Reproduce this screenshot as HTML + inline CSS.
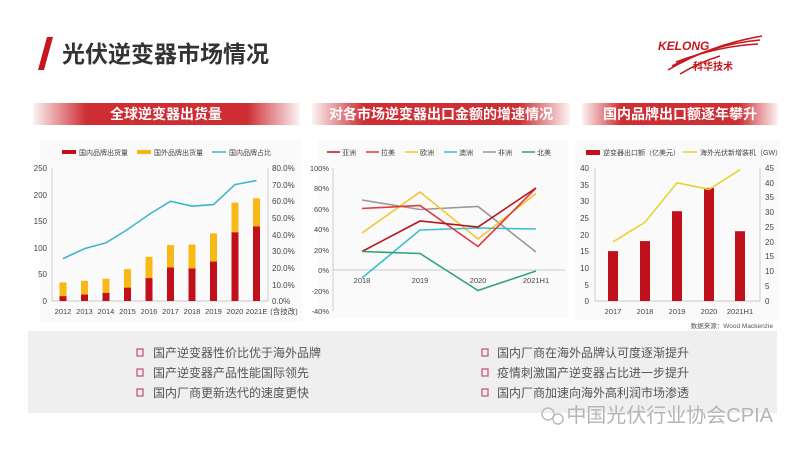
<!DOCTYPE html>
<html><head><meta charset="utf-8"><style>
html,body{margin:0;padding:0;background:#fff;}
svg{display:block;font-family:"Liberation Sans","Noto Sans CJK SC",sans-serif;}
</style></head><body>
<svg width="800" height="450" viewBox="0 0 800 450" xmlns="http://www.w3.org/2000/svg">
<defs>
<linearGradient id="bn" x1="0" x2="1" y1="0" y2="0">
<stop offset="0" stop-color="#c8161d" stop-opacity="0.05"/>
<stop offset="0.2" stop-color="#c8161d" stop-opacity="0.9"/>
<stop offset="0.8" stop-color="#c8161d" stop-opacity="0.9"/>
<stop offset="1" stop-color="#c8161d" stop-opacity="0.05"/>
</linearGradient>
</defs>
<rect width="800" height="450" fill="#fff"/>
<polygon points="47,37 53,37 44,70 38,70" fill="#c8161d"/>
<text x="62" y="62" font-size="23" font-weight="bold" fill="#333">光伏逆变器市场情况</text>
<text x="658" y="50" font-size="12" font-weight="bold" font-style="italic" fill="#c8161d">KELONG</text>
<g stroke="#c8161d" fill="none" stroke-width="1.6">
<path d="M668,70 Q710,45 762,36"/><path d="M672,66 Q715,44 760,40"/><path d="M676,62 Q718,46 758,44"/><path d="M680,74 Q700,62 720,56"/>
</g>
<text x="693" y="70" font-size="10" font-weight="bold" fill="#c8161d">科华技术</text>

<rect x="33" y="103" width="267" height="22" fill="url(#bn)"/>
<text x="166" y="119" font-size="14" font-weight="bold" fill="#fff" text-anchor="middle">全球逆变器出货量</text>
<rect x="312" y="103" width="258" height="22" fill="url(#bn)"/>
<text x="441" y="119" font-size="14" font-weight="bold" fill="#fff" text-anchor="middle">对各市场逆变器出口金额的增速情况</text>
<rect x="582" y="103" width="196" height="22" fill="url(#bn)"/>
<text x="680" y="119" font-size="14" font-weight="bold" fill="#fff" text-anchor="middle">国内品牌出口额逐年攀升</text>

<!-- chart1 -->
<rect x="40" y="140" width="262" height="182" fill="#fafafa"/>
<g font-size="7" fill="#444">
<rect x="62" y="150" width="14" height="4" fill="#c0101c"/><text x="79" y="155">国内品牌出货量</text>
<rect x="137" y="150" width="14" height="4" fill="#f8b916"/><text x="154" y="155">国外品牌出货量</text>
<line x1="212" y1="152" x2="226" y2="152" stroke="#3fb6cc" stroke-width="1.5"/><text x="229" y="155">国内品牌占比</text>
</g>
<line x1="52" y1="168" x2="52" y2="301" stroke="#bbb" stroke-width="0.7"/>
<line x1="268" y1="168" x2="268" y2="301" stroke="#bbb" stroke-width="0.7"/>
<line x1="52" y1="301" x2="268" y2="301" stroke="#bbb" stroke-width="0.7"/>
<g font-size="8" fill="#444" text-anchor="end">
<text x="47" y="171">250</text><text x="47" y="198">200</text><text x="47" y="224">150</text><text x="47" y="251">100</text><text x="47" y="277">50</text><text x="47" y="304">0</text>
</g>
<g font-size="8" fill="#444">
<text x="272" y="171">80.0%</text><text x="272" y="188">70.0%</text><text x="272" y="204">60.0%</text><text x="272" y="221">50.0%</text><text x="272" y="238">40.0%</text><text x="272" y="254">30.0%</text><text x="272" y="271">20.0%</text><text x="272" y="288">10.0%</text><text x="272" y="304">0.0%</text>
</g>
<g fill="#f8b916">
<rect x="59.5" y="282.4" width="7" height="18.6"/>
<rect x="81" y="280.8" width="7" height="20.2"/>
<rect x="102.5" y="278.7" width="7" height="22.3"/>
<rect x="124" y="269.1" width="7" height="31.9"/>
<rect x="145.5" y="256.8" width="7" height="44.2"/>
<rect x="167" y="245.1" width="7" height="55.9"/>
<rect x="188.5" y="244.6" width="7" height="56.4"/>
<rect x="210" y="233.4" width="7" height="67.6"/>
<rect x="231.5" y="202.6" width="7" height="98.4"/>
<rect x="253" y="198.3" width="7" height="102.7"/>
</g>
<g fill="#c0101c">
<rect x="59.5" y="296.2" width="7" height="4.8"/>
<rect x="81" y="294.6" width="7" height="6.4"/>
<rect x="102.5" y="293" width="7" height="8"/>
<rect x="124" y="287.7" width="7" height="13.3"/>
<rect x="145.5" y="278.1" width="7" height="22.9"/>
<rect x="167" y="267.5" width="7" height="33.5"/>
<rect x="188.5" y="268.5" width="7" height="32.5"/>
<rect x="210" y="261.6" width="7" height="39.4"/>
<rect x="231.5" y="232.4" width="7" height="68.6"/>
<rect x="253" y="226.5" width="7" height="74.5"/>
</g>
<polyline fill="none" stroke="#3fb6cc" stroke-width="1.6" points="63,258.6 84.5,248.6 106,242.8 127.5,229.5 149,214.5 170.5,201.2 192,206.2 213.5,204.6 235,184.6 256.5,180.5"/>
<g font-size="7.5" fill="#444" text-anchor="middle">
<text x="63" y="314">2012</text><text x="84.5" y="314">2013</text><text x="106" y="314">2014</text><text x="127.5" y="314">2015</text><text x="149" y="314">2016</text><text x="170.5" y="314">2017</text><text x="192" y="314">2018</text><text x="213.5" y="314">2019</text><text x="235" y="314">2020</text><text x="256.5" y="314">2021E</text><text x="284" y="314">(含技改)</text>
</g>

<!-- chart2 -->
<rect x="318" y="140" width="250" height="178" fill="#fafafa"/>
<g font-size="7" fill="#444">
<line x1="327" y1="152" x2="340" y2="152" stroke="#b5161e" stroke-width="1.5"/><text x="342" y="155">亚洲</text>
<line x1="366" y1="152" x2="379" y2="152" stroke="#e03a3a" stroke-width="1.5"/><text x="381" y="155">拉美</text>
<line x1="405" y1="152" x2="418" y2="152" stroke="#f2c531" stroke-width="1.5"/><text x="420" y="155">欧洲</text>
<line x1="444" y1="152" x2="457" y2="152" stroke="#3fbdd4" stroke-width="1.5"/><text x="459" y="155">澳洲</text>
<line x1="483" y1="152" x2="496" y2="152" stroke="#999" stroke-width="1.5"/><text x="498" y="155">非洲</text>
<line x1="522" y1="152" x2="535" y2="152" stroke="#2da577" stroke-width="1.5"/><text x="537" y="155">北美</text>
</g>
<line x1="333" y1="168" x2="333" y2="311" stroke="#bbb" stroke-width="0.7"/>
<line x1="333" y1="270" x2="565" y2="270" stroke="#bbb" stroke-width="0.7"/>
<g font-size="7.5" fill="#444" text-anchor="end">
<text x="329" y="171">100%</text><text x="329" y="191">80%</text><text x="329" y="212">60%</text><text x="329" y="232">40%</text><text x="329" y="253">20%</text><text x="329" y="273">0%</text><text x="329" y="294">-20%</text><text x="329" y="314">-40%</text>
</g>
<g font-size="7.5" fill="#444" text-anchor="middle">
<text x="362" y="283">2018</text><text x="420" y="283">2019</text><text x="478" y="283">2020</text><text x="536" y="283">2021H1</text>
</g>
<g fill="none" stroke-width="1.6">
<polyline stroke="#999" points="362,200 420,209.5 478,206.5 536,252"/>
<polyline stroke="#f2c531" points="362,233 420,192 478,239 536,193.5"/>
<polyline stroke="#3fbdd4" points="362,278 420,230 478,228 536,229"/>
<polyline stroke="#e03a3a" points="362,208.5 420,205.5 478,246.5 536,188"/>
<polyline stroke="#b5161e" points="362,251.5 420,221 478,227 536,188"/>
<polyline stroke="#2da577" points="362,251.5 420,253.5 478,290.5 536,271"/>
</g>

<!-- chart3 -->
<rect x="575" y="140" width="205" height="180" fill="#fafafa"/>
<g font-size="7" fill="#444">
<rect x="586" y="150" width="14" height="5" fill="#c0101c"/><text x="603" y="155">逆变器出口额（亿美元）</text>
<line x1="683" y1="152" x2="697" y2="152" stroke="#e8d32e" stroke-width="1.5"/><text x="700" y="155">海外光伏新增装机（GW）</text>
</g>
<line x1="595" y1="301" x2="760" y2="301" stroke="#bbb" stroke-width="0.7"/>
<line x1="595" y1="168" x2="595" y2="301" stroke="#bbb" stroke-width="0.7"/>
<line x1="760" y1="168" x2="760" y2="301" stroke="#bbb" stroke-width="0.7"/>
<g font-size="8" fill="#444" text-anchor="end">
<text x="589" y="171">40</text><text x="589" y="188">35</text><text x="589" y="204">30</text><text x="589" y="221">25</text><text x="589" y="238">20</text><text x="589" y="254">15</text><text x="589" y="271">10</text><text x="589" y="288">5</text><text x="589" y="304">0</text>
</g>
<g font-size="8" fill="#444">
<text x="765" y="171">45</text><text x="765" y="186">40</text><text x="765" y="200">35</text><text x="765" y="215">30</text><text x="765" y="230">25</text><text x="765" y="245">20</text><text x="765" y="259">15</text><text x="765" y="274">10</text><text x="765" y="289">5</text><text x="765" y="304">0</text>
</g>
<g fill="#c0101c">
<rect x="608" y="251.1" width="10" height="49.9"/>
<rect x="640" y="241.1" width="10" height="59.9"/>
<rect x="672" y="211.2" width="10" height="89.8"/>
<rect x="704" y="187.9" width="10" height="113.1"/>
<rect x="735" y="231.2" width="10" height="69.8"/>
</g>
<polyline fill="none" stroke="#e8d32e" stroke-width="1.6" points="613,241.9 645,222.2 677,182.8 709,189.4 740,169.7"/>
<g font-size="7.5" fill="#444" text-anchor="middle">
<text x="613" y="314">2017</text><text x="645" y="314">2018</text><text x="677" y="314">2019</text><text x="709" y="314">2020</text><text x="740" y="314">2021H1</text>
</g>
<text x="773" y="328" font-size="6.5" fill="#555" text-anchor="end">数据来源：Wood Mackenzie</text>

<rect x="28" y="331" width="749" height="82" fill="#efefef"/>
<g font-size="12" fill="#555">
<text x="153" y="357">国产逆变器性价比优于海外品牌</text>
<text x="153" y="377">国产逆变器产品性能国际领先</text>
<text x="153" y="397">国内厂商更新迭代的速度更快</text>
<text x="497" y="357">国内厂商在海外品牌认可度逐渐提升</text>
<text x="497" y="377">疫情刺激国产逆变器占比进一步提升</text>
<text x="497" y="397">国内厂商加速向海外高利润市场渗透</text>
</g>
<g fill="none" stroke="#c0506a" stroke-width="1.2">
<rect x="137" y="349" width="6" height="7"/><rect x="137" y="369" width="6" height="7"/><rect x="137" y="389" width="6" height="7"/>
<rect x="482" y="349" width="6" height="7"/><rect x="482" y="369" width="6" height="7"/><rect x="482" y="389" width="6" height="7"/>
</g>
<g fill="none" stroke="#bbb" stroke-width="1.5">
<circle cx="548" cy="414" r="6"/><circle cx="558" cy="419" r="5"/>
</g>
<text x="773" y="422" font-size="20" fill="#b5b5b5" text-anchor="end">中国光伏行业协会CPIA</text>
</svg>
</body></html>
